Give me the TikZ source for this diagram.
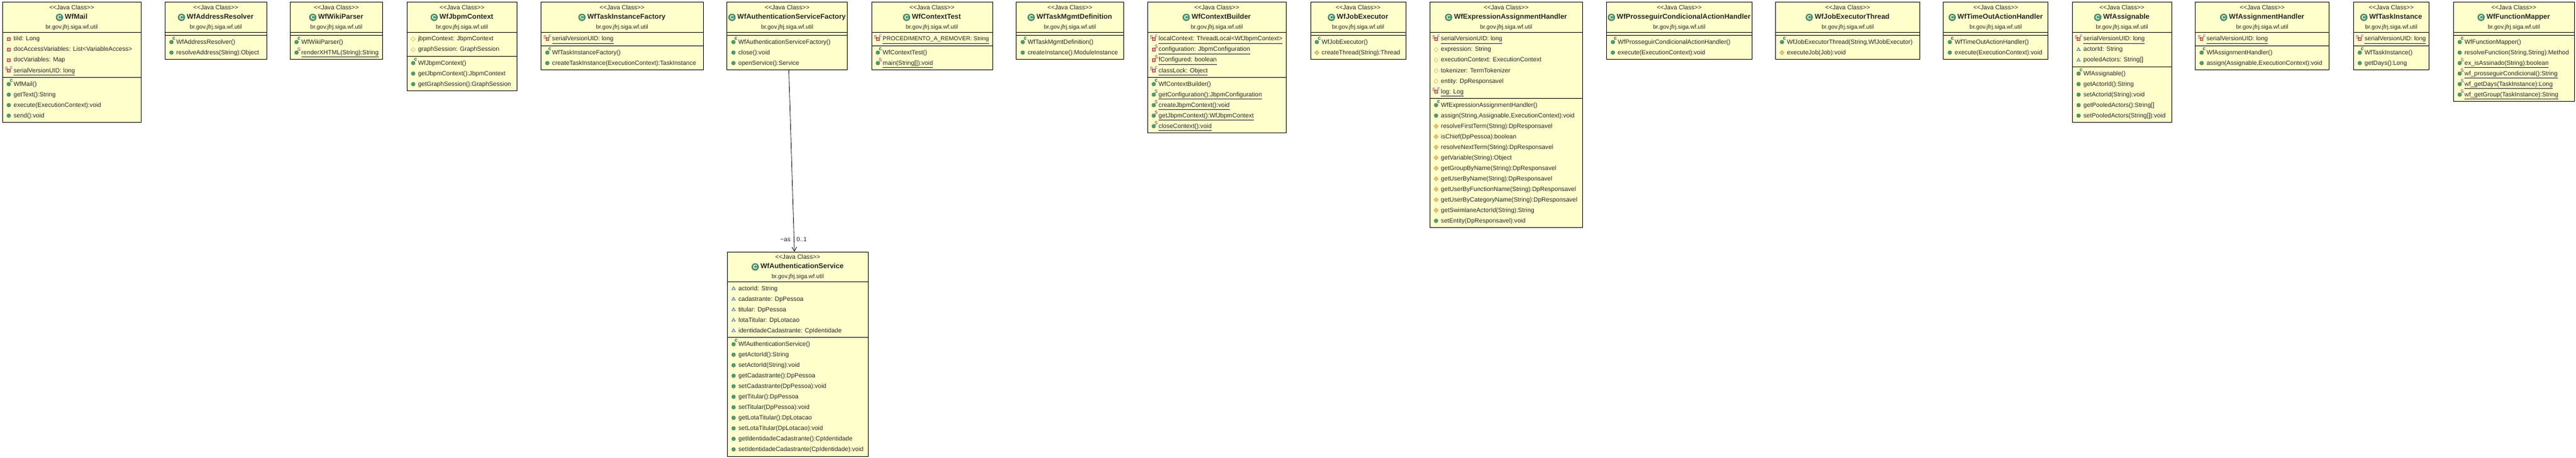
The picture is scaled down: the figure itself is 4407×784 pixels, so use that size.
\documentclass[tikz,border=0pt]{standalone}
\usepackage{fontspec}
\setmainfont{Liberation Sans}
\usetikzlibrary{shapes.geometric, arrows.meta, positioning}

\definecolor{classfill}{HTML}{FFFFCC}
\definecolor{pubgreen}{HTML}{4F9C74}
\definecolor{protyellow}{HTML}{E9C46A}
\definecolor{privred}{HTML}{B0344A}
\definecolor{pkgblue}{HTML}{3F74A8}
\definecolor{statpurple}{HTML}{8E0F5A}
\definecolor{finalblue}{HTML}{2F5FB0}
\definecolor{rowink}{HTML}{262626}

\newcommand{\ul}[1]{\setbox0\hbox{#1}\rlap{\rule[-4.6pt]{\wd0}{0.9pt}}\box0}

\tikzset{
    classbox/.style={draw=black, line width=0.9pt, fill=classfill, anchor=north west, inner sep=0pt},
    classline/.style={line width=0.9pt},
    rowtext/.style={inner sep=0pt, text height=8.5pt, text depth=2.5pt, text=rowink, font=\fontsize{10.6}{12}\selectfont},
    pkgtext/.style={rowtext, font=\fontsize{10}{12}\selectfont},
    nametext/.style={rowtext, font=\fontsize{12}{12}\selectfont\bfseries},
    clsicon/.style={circle, draw=pubgreen!70!black, line width=0.8pt, fill=pubgreen, minimum size=11.5pt, inner sep=0pt,
        text=white, font=\fontsize{10}{10}\selectfont\bfseries},
    mark label/.style={inner sep=0pt, font=\fontsize{8}{8}\selectfont},
    pubm/.style={circle, draw=pubgreen!75!black, line width=0.5pt, fill=pubgreen, minimum size=6.5pt, inner sep=0pt},
    protm/.style={diamond, draw=protyellow!85!black, line width=0.5pt, fill=protyellow, minimum size=8pt, inner sep=0pt},
    protf/.style={diamond, draw=protyellow!85!black, line width=0.6pt, fill=classfill, minimum size=7.5pt, inner sep=0pt},
    privf/.style={rectangle, draw=privred, line width=1pt, fill=classfill!60!privred, minimum size=4.5pt, inner sep=0pt},
    pkgf/.style={regular polygon, regular polygon sides=3, draw=pkgblue, line width=0.8pt, fill=pkgblue!25, minimum size=7pt, inner sep=0pt},
    ctorm/.style={pubm, label={[mark label, text=pubgreen!60!black, xshift=4.3pt, yshift=5.7pt, font=\fontsize{9}{9}\selectfont\bfseries]center:c}},
    statm/.style={pubm, label={[mark label, text=statpurple, xshift=4.3pt, yshift=5.7pt]center:S}},
    privs/.style={privf, label={[mark label, text=statpurple, xshift=4.5pt, yshift=5pt]center:S}},
    privsf/.style={privf, label={[mark label, text=statpurple, xshift=-3.8pt, yshift=3.6pt]center:S},
        label={[mark label, text=finalblue, xshift=4.6pt, yshift=4.2pt]center:F}},
}

% box with its title and compartment lines: id, left, right, top, title, fields, methods
\newcommand{\umlclass}[7]{
    \node[classbox, minimum width={(#3-#2)*1pt}, minimum height={(61.8+18*#6+18*#7)*1pt}] (#1) at (#2,#4) {};
    \node[rowtext, yshift=-9.8pt] (#1-st) at (#1.north) {<{}<Java Class>{}>};
    \node[nametext, yshift=-26.2pt] (#1-nm) at (#1.north) {\hspace*{15pt}#5};
    \node[clsicon, xshift=6pt] (#1-ic) at (#1-nm.west) {C};
    \node[pkgtext, yshift=-42.6pt] (#1-pk) at (#1.north) {br.gov.jfrj.siga.wf.util};
    \draw[classline] ([yshift=-51.8pt]#1.north west) -- ([yshift=-51.8pt]#1.north east);
    \draw[classline] ([yshift={-(56.8+18*#6)*1pt}]#1.north west) -- ([yshift={-(56.8+18*#6)*1pt}]#1.north east);
}
\newcommand{\fields}[2]{
    \foreach \kind/\txt [count=\i] in {#2} {
        \node[rowtext, anchor=west, xshift=19.5pt, yshift={-(45.5+18*\i)*1pt}] (#1-f\i) at (#1.north west) {\txt};
        \node[\kind, xshift=-8.2pt] (#1-fi\i) at (#1-f\i.west) {};
    }
}
% methods start below the fields, #2 is the number of fields
\newcommand{\methods}[3]{
    \foreach \kind/\txt [count=\i] in {#3} {
        \node[rowtext, anchor=west, xshift=19.5pt, yshift={-(50.5+18*#2+18*\i)*1pt}] (#1-m\i) at (#1.north west) {\txt};
        \node[\kind, xshift=-8.2pt] (#1-mi\i) at (#1-m\i.west) {};
    }
}

\begin{document}
\begin{tikzpicture}[x=1pt, y=-1pt, >={Straight Barb[length=7pt, width=8pt]}]

\useasboundingbox (0,0) rectangle (4407,784);

\umlclass{mail}{3.7}{241}{3.5}{WfMail}{4}{4}
\fields{mail}{privf/{tiId: Long}, privf/{docAccessVariables: List<VariableAccess>}, privf/{docVariables: Map}, privsf/{\ul{serialVersionUID: long}}}
\methods{mail}{4}{ctorm/{WfMail()}, pubm/{getText():String}, pubm/{execute(ExecutionContext):void}, pubm/{send():void}}

\umlclass{resolver}{282}{455.5}{3.5}{WfAddressResolver}{0}{2}
\methods{resolver}{0}{ctorm/{WfAddressResolver()}, pubm/{resolveAddress(String):Object}}

\umlclass{wiki}{496}{654}{3.5}{WfWikiParser}{0}{2}
\methods{wiki}{0}{ctorm/{WfWikiParser()}, statm/{\ul{renderXHTML(String):String}}}

\umlclass{jbpm}{695.6}{884.4}{3.5}{WfJbpmContext}{2}{3}
\fields{jbpm}{protf/{jbpmContext: JbpmContext}, protf/{graphSession: GraphSession}}
\methods{jbpm}{2}{ctorm/{WfJbpmContext()}, pubm/{getJbpmContext():JbpmContext}, pubm/{getGraphSession():GraphSession}}

\umlclass{taskfactory}{925}{1202.6}{3.5}{WfTaskInstanceFactory}{1}{2}
\fields{taskfactory}{privsf/{\ul{serialVersionUID: long}}}
\methods{taskfactory}{1}{ctorm/{WfTaskInstanceFactory()}, pubm/{createTaskInstance(ExecutionContext):TaskInstance}}

\umlclass{authfactory}{1243.4}{1449}{3.5}{WfAuthenticationServiceFactory}{0}{3}
\methods{authfactory}{0}{ctorm/{WfAuthenticationServiceFactory()}, pubm/{close():void}, pubm/{openService():Service}}

\umlclass{ctxtest}{1490.5}{1697.6}{3.5}{WfContextTest}{1}{2}
\fields{ctxtest}{privsf/{\fontsize{10}{12}\selectfont\ul{PROCEDIMENTO\_A\_REMOVER: String}}}
\methods{ctxtest}{1}{ctorm/{WfContextTest()}, statm/{\ul{main(String[]):void}}}

\umlclass{mgmt}{1738.4}{1921.6}{3.5}{WfTaskMgmtDefinition}{0}{2}
\methods{mgmt}{0}{ctorm/{WfTaskMgmtDefinition()}, pubm/{createInstance():ModuleInstance}}

\umlclass{builder}{1962.5}{2200}{3.5}{WfContextBuilder}{4}{5}
\fields{builder}{privsf/{\ul{localContext: ThreadLocal<WfJbpmContext>}}, privs/{\ul{configuration: JbpmConfiguration}}, privs/{\ul{fConfigured: boolean}}, privsf/{\ul{classLock: Object}}}
\methods{builder}{4}{ctorm/{WfContextBuilder()}, statm/{\ul{getConfiguration():JbpmConfiguration}}, statm/{\ul{createJbpmContext():void}}, statm/{\ul{getJbpmContext():WfJbpmContext}}, statm/{\ul{closeContext():void}}}

\umlclass{jobexec}{2241.5}{2404.5}{3.5}{WfJobExecutor}{0}{2}
\methods{jobexec}{0}{ctorm/{WfJobExecutor()}, protm/{createThread(String):Thread}}

\umlclass{expr}{2445.5}{2707}{3.5}{WfExpressionAssignmentHandler}{6}{12}
\fields{expr}{privsf/{\ul{serialVersionUID: long}}, protf/{expression: String}, protf/{executionContext: ExecutionContext}, protf/{tokenizer: TermTokenizer}, protf/{entity: DpResponsavel}, privsf/{\ul{log: Log}}}
\methods{expr}{6}{ctorm/{WfExpressionAssignmentHandler()}, pubm/{assign(String,Assignable,ExecutionContext):void}, protm/{resolveFirstTerm(String):DpResponsavel}, protm/{isChief(DpPessoa):boolean}, protm/{resolveNextTerm(String):DpResponsavel}, protm/{getVariable(String):Object}, protm/{getGroupByName(String):DpResponsavel}, protm/{getUserByName(String):DpResponsavel}, protm/{getUserByFunctionName(String):DpResponsavel}, protm/{getUserByCategoryName(String):DpResponsavel}, protm/{getSwimlaneActorId(String):String}, pubm/{setEntity(DpResponsavel):void}}

\umlclass{prosseguir}{2748}{2996.7}{3.5}{WfProsseguirCondicionalActionHandler}{0}{2}
\methods{prosseguir}{0}{ctorm/{WfProsseguirCondicionalActionHandler()}, pubm/{execute(ExecutionContext):void}}

\umlclass{jobthread}{3037.3}{3283.8}{3.5}{WfJobExecutorThread}{0}{2}
\methods{jobthread}{0}{ctorm/{WfJobExecutorThread(String,WfJobExecutor)}, protm/{executeJob(Job):void}}

\umlclass{timeout}{3324.4}{3503.3}{3.5}{WfTimeOutActionHandler}{0}{2}
\methods{timeout}{0}{ctorm/{WfTimeOutActionHandler()}, pubm/{execute(ExecutionContext):void}}

\umlclass{assignable}{3544.7}{3714.7}{3.5}{WfAssignable}{3}{5}
\fields{assignable}{privsf/{\ul{serialVersionUID: long}}, pkgf/{actorId: String}, pkgf/{pooledActors: String[]}}
\methods{assignable}{3}{ctorm/{WfAssignable()}, pubm/{getActorId():String}, pubm/{setActorId(String):void}, pubm/{getPooledActors():String[]}, pubm/{setPooledActors(String[]):void}}

\umlclass{assignhandler}{3755.3}{3984.3}{3.5}{WfAssignmentHandler}{1}{2}
\fields{assignhandler}{privsf/{\ul{serialVersionUID: long}}}
\methods{assignhandler}{1}{ctorm/{WfAssignmentHandler()}, pubm/{assign(Assignable,ExecutionContext):void}}

\umlclass{taskinst}{4025.7}{4155.3}{3.5}{WfTaskInstance}{1}{2}
\fields{taskinst}{privsf/{\ul{serialVersionUID: long}}}
\methods{taskinst}{1}{ctorm/{WfTaskInstance()}, pubm/{getDays():Long}}

\umlclass{mapper}{4196.7}{4403.7}{3.5}{WfFunctionMapper}{0}{6}
\methods{mapper}{0}{ctorm/{WfFunctionMapper()}, pubm/{resolveFunction(String,String):Method}, statm/{\ul{ex\_isAssinado(String):boolean}}, statm/{\ul{wf\_prosseguirCondicional():String}}, statm/{\ul{wf\_getDays(TaskInstance):Long}}, statm/{\ul{wf\_getGroup(TaskInstance):String}}}

\umlclass{service}{1243.7}{1484.7}{430.7}{WfAuthenticationService}{5}{11}
\fields{service}{pkgf/{actorId: String}, pkgf/{cadastrante: DpPessoa}, pkgf/{titular: DpPessoa}, pkgf/{lotaTitular: DpLotacao}, pkgf/{identidadeCadastrante: CpIdentidade}}
\methods{service}{5}{ctorm/{WfAuthenticationService()}, pubm/{getActorId():String}, pubm/{setActorId(String):void}, pubm/{getCadastrante():DpPessoa}, pubm/{setCadastrante(DpPessoa):void}, pubm/{getTitular():DpPessoa}, pubm/{setTitular(DpPessoa):void}, pubm/{getLotaTitular():DpLotacao}, pubm/{setLotaTitular(DpLotacao):void}, pubm/{getIdentidadeCadastrante():CpIdentidade}, pubm/{setIdentidadeCadastrante(CpIdentidade):void}}

\draw[->, line width=0.8pt] ([xshift=2.8pt]authfactory.south) -- ([xshift=-5.5pt]service.north);
\node[rowtext, xshift=-21pt, yshift=20pt] (asrole) at (service.north) {\textasciitilde as};
\node[rowtext, xshift=6.8pt, yshift=20pt] (asmult) at (service.north) {0..1};

\end{tikzpicture}
\end{document}
